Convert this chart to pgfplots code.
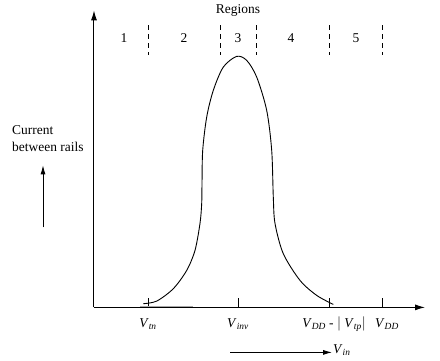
\documentclass[border=0pt]{standalone}
\usepackage{pgfplots}
\pgfplotsset{compat=1.18}
\usetikzlibrary{arrows.meta}
\usepackage{fontspec}
\setmainfont{Liberation Serif}
\newcommand{\V}[1]{\textit{V}\textsubscript{\textit{#1}}}
\begin{document}
\fontsize{13.5}{16}\selectfont
\begin{tikzpicture}[x=1bp,y=1bp]
\begin{axis}[
  scale only axis,
  width=331bp, height=297bp,
  xmin=0, xmax=331, ymin=0, ymax=297,
  axis lines=left,
  axis line style={line width=1bp, -{Latex[length=10bp,width=6bp]}},
  xtick={54,144,235,288},
  xticklabels={},
  ytick=\empty,
  xtick align=inside,
  major tick length=9bp,
  tick style={black, line width=0.8bp},
  clip=false,
]
\path (axis cs:-94,-53) rectangle (axis cs:346,307);
% curve
\addplot[black, line width=0.9bp, smooth, tension=0.5] coordinates {
(49.3,3.7) (62.7,6.3) (79.3,18.7) (92.7,37) (101,57) (106,84) (107.7,104) (108,124)
(108.7,157) (112.7,190.3) (119.3,217) (129.3,240.3) (142.7,251) (152.7,247)
(162.7,230.3) (172.7,197) (177.7,157) (179.3,110.3) (181,84) (189.3,53.7)
(206,27) (222.7,12) (239.3,3)};
\addplot[gray!70, line width=1bp] coordinates {(46,0.5) (99,0.5)};
% dashed region separators
\addplot[black, line width=0.8bp, dash pattern=on 5bp off 4bp] coordinates {(54,282) (54,252)};
\addplot[black, line width=0.8bp, dash pattern=on 5bp off 4bp] coordinates {(126,282) (126,252)};
\addplot[black, line width=0.8bp, dash pattern=on 5bp off 4bp] coordinates {(162,282) (162,252)};
\addplot[black, line width=0.8bp, dash pattern=on 5bp off 4bp] coordinates {(235,282) (235,252)};
\addplot[black, line width=0.8bp, dash pattern=on 5bp off 4bp] coordinates {(288,282) (288,252)};
% region labels
\node at (axis cs:30,269) {1};
\node at (axis cs:90,269) {2};
\node at (axis cs:144,269) {3};
\node at (axis cs:197,269) {4};
\node at (axis cs:262,269) {5};
\node at (axis cs:144,297) {Regions};
% tick labels
\node at (axis cs:54,-17) {\V{tn}};
\node at (axis cs:144,-17) {\V{inv}};
\node at (axis cs:240,-17) {\V{DD} - $|$ \V{tp}$|$};
\node at (axis cs:293,-17) {\V{DD}};
% bottom arrow
\draw[line width=0.8bp, -{Latex[length=9bp,width=5bp]}] (axis cs:136,-45) -- (axis cs:238,-45);
\node[anchor=west, inner sep=1bp] at (axis cs:238,-43) {\V{in}};
% left label
\node[anchor=west, inner sep=0pt] at (axis cs:-82,177) {Current};
\node[anchor=west, inner sep=0pt] at (axis cs:-82,160) {between rails};
\draw[line width=0.8bp, -{Latex[length=9bp,width=5bp]}] (axis cs:-51,80) -- (axis cs:-51,142);
\end{axis}
\end{tikzpicture}
\end{document}
